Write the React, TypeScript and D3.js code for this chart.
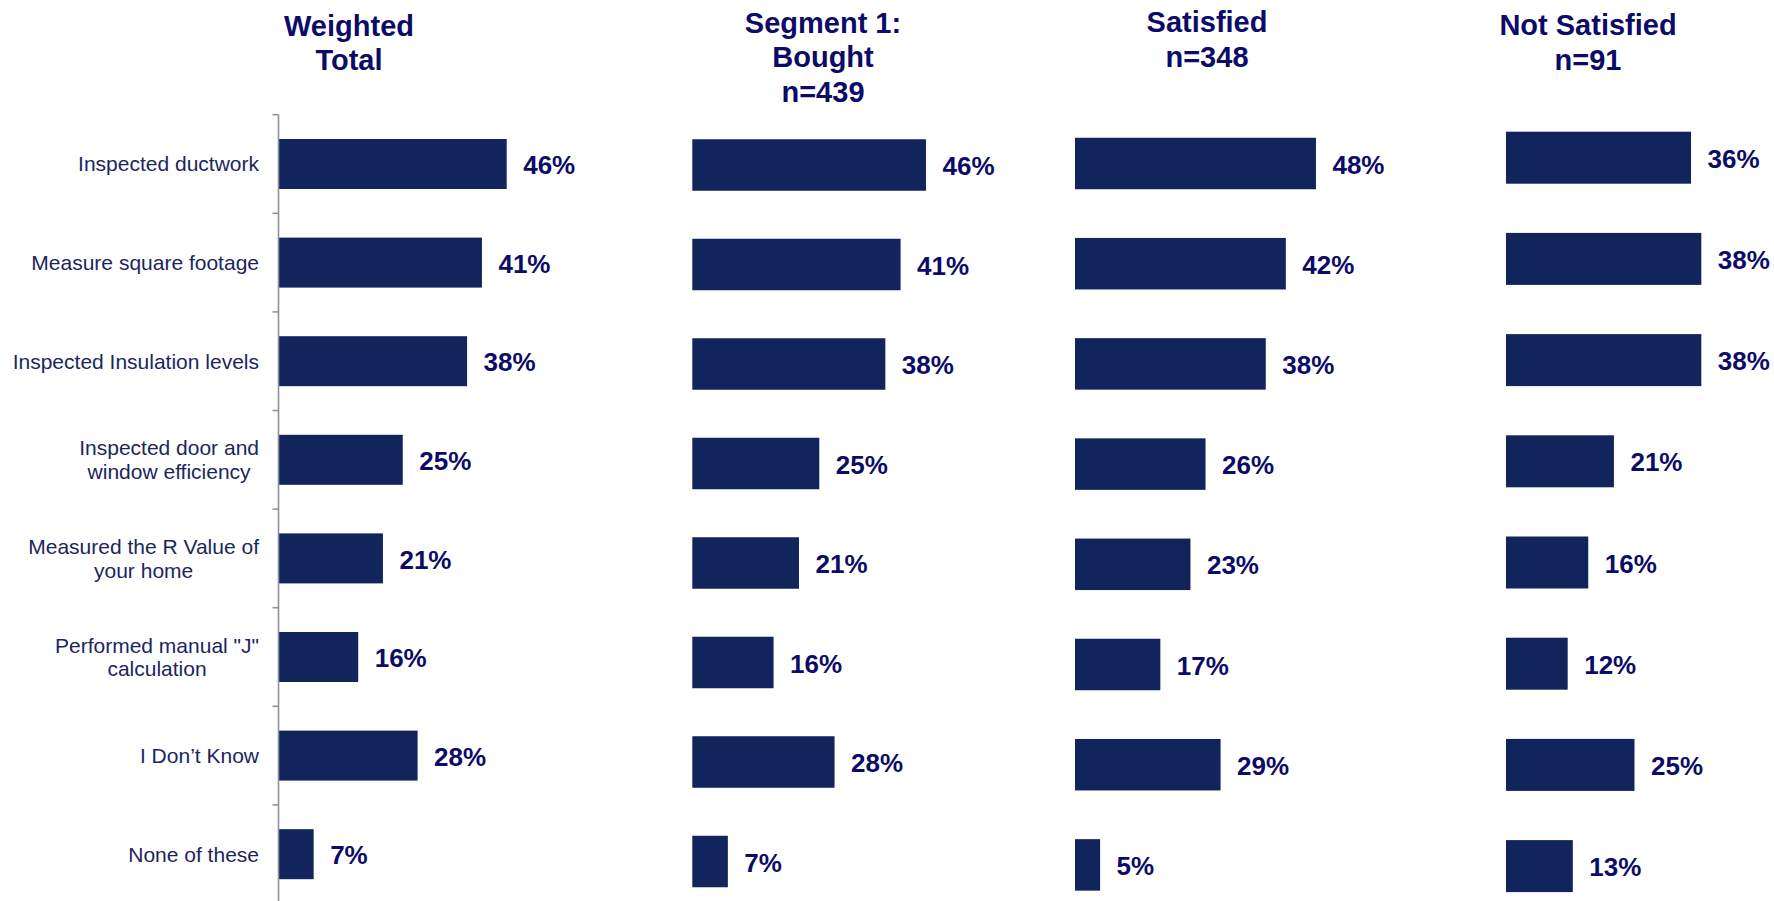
import React, { useEffect, useRef } from "react";
import * as d3 from "d3";

// dimensões da página
const WIDTH = 1774;
const HEIGHT = 901;

// categorias (\n = quebra de linha no rótulo)
const categories: string[] = [
  "Inspected ductwork",
  "Measure square footage",
  "Inspected Insulation levels",
  "Inspected door and\nwindow efficiency",
  "Measured the R Value of\nyour home",
  'Performed manual "J"\ncalculation',
  "I Don\u2019t Know",
  "None of these",
];

// títulos dos painéis
const titleWeighted = ["Weighted", "Total"];
const titleBought = ["Segment 1:", "Bought", "n=439"];
const titleSatisfied = ["Satisfied", "n=348"];
const titleNotSatisfied = ["Not Satisfied", "n=91"];

// valores (%)
const weightedTotal = [46, 41, 38, 25, 21, 16, 28, 7];
const bought = [46, 41, 38, 25, 21, 16, 28, 7];
const satisfied = [48, 42, 38, 26, 23, 17, 29, 5];
const notSatisfied = [36, 38, 38, 21, 16, 12, 25, 13];

// cores e fontes
const BAR_COLOR = "#12245c";
const VALUE_COLOR = "#0c0c68";
const LABEL_COLOR = "#1b2660";
const AXIS_COLOR = "#8f91a3";
const FONT = "'Liberation Sans', Arial, sans-serif";

// layout de cada painel
const panels = [
  { title: titleWeighted, values: weightedTotal, x0: 279, k: 4.95, c1: 164, step: 98.6, h: 50, titleX: 349, titleY: 35.5 },
  { title: titleBought, values: bought, x0: 692.3, k: 5.08, c1: 165, step: 99.5, h: 51.5, titleX: 823, titleY: 32.5 },
  { title: titleSatisfied, values: satisfied, x0: 1075, k: 5.02, c1: 163.5, step: 100.2, h: 51.5, titleX: 1207, titleY: 32 },
  { title: titleNotSatisfied, values: notSatisfied, x0: 1506, k: 5.14, c1: 157.7, step: 101.2, h: 52, titleX: 1588, titleY: 35 },
];

const LABEL_RIGHT = 259;

const App: React.FC = () => {
  const ref = useRef<SVGSVGElement | null>(null);

  useEffect(() => {
    if (!ref.current) return;
    const svg = d3.select(ref.current);
    svg.selectAll("*").remove();

    panels.forEach((p, pi) => {
      const g = svg.append("g");
      const r0 = p.c1 - p.step / 2;
      const pad = 1 - p.h / p.step;

      const x = d3.scaleLinear().domain([0, 100]).range([p.x0, p.x0 + 100 * p.k]);
      const y = d3
        .scaleBand<string>()
        .domain(categories)
        .range([r0, r0 + categories.length * p.step])
        .paddingInner(pad)
        .paddingOuter(pad / 2);

      // título
      const t = g
        .append("text")
        .attr("text-anchor", "middle")
        .attr("font-family", FONT)
        .attr("font-weight", "bold")
        .attr("font-size", 29)
        .attr("fill", VALUE_COLOR);
      p.title.forEach((line, li) => {
        t.append("tspan").attr("x", p.titleX).attr("y", p.titleY + li * 34.5).text(line);
      });

      // barras
      g.selectAll("rect.bar")
        .data(p.values)
        .enter()
        .append("rect")
        .attr("class", "bar")
        .attr("x", x(0))
        .attr("y", (_, i) => y(categories[i]) || 0)
        .attr("width", (d) => x(d) - x(0))
        .attr("height", y.bandwidth())
        .attr("fill", BAR_COLOR);

      // rótulos de valor
      g.selectAll("text.val")
        .data(p.values)
        .enter()
        .append("text")
        .attr("class", "val")
        .attr("x", (d) => x(d) + 16.5)
        .attr("y", (_, i) => (y(categories[i]) || 0) + y.bandwidth() / 2 + 1)
        .attr("dy", "0.35em")
        .attr("font-family", FONT)
        .attr("font-weight", "bold")
        .attr("font-size", 26)
        .attr("fill", VALUE_COLOR)
        .text((d) => `${d}%`);

      if (pi === 0) {
        // eixo vertical com marcas entre as categorias
        g.append("line")
          .attr("x1", p.x0 - 0.5)
          .attr("x2", p.x0 - 0.5)
          .attr("y1", r0)
          .attr("y2", HEIGHT)
          .attr("stroke", AXIS_COLOR)
          .attr("stroke-width", 1.6);
        d3.range(categories.length + 1).forEach((i) => {
          const ty = r0 + i * p.step;
          g.append("line")
            .attr("x1", p.x0 - 6.5)
            .attr("x2", p.x0 - 0.5)
            .attr("y1", ty)
            .attr("y2", ty)
            .attr("stroke", AXIS_COLOR)
            .attr("stroke-width", 1.6);
        });

        // rótulos das categorias
        categories.forEach((c) => {
          const lines = c.split("\n");
          const cy = (y(c) || 0) + y.bandwidth() / 2;
          const lh = 23.5;
          const txt = g
            .append("text")
            .attr("font-family", FONT)
            .attr("font-size", 21)
            .attr("fill", LABEL_COLOR);
          const spans = lines.map((line, li) =>
            txt
              .append("tspan")
              .attr("y", cy + (li - (lines.length - 1) / 2) * lh)
              .attr("dy", "0.35em")
              .text(line)
          );
          if (lines.length === 1) {
            txt.attr("text-anchor", "end");
            spans[0].attr("x", LABEL_RIGHT);
          } else {
            const w = d3.max(spans, (s) => (s.node() as SVGTSpanElement).getComputedTextLength()) || 0;
            txt.attr("text-anchor", "middle");
            spans.forEach((s) => s.attr("x", LABEL_RIGHT - w / 2));
          }
        });
      }
    });
  }, []);

  return (
    <svg
      ref={ref}
      width={WIDTH}
      height={HEIGHT}
      style={{ position: "absolute", left: 0, top: 0, background: "#fff" }}
    />
  );
};

export default App;
